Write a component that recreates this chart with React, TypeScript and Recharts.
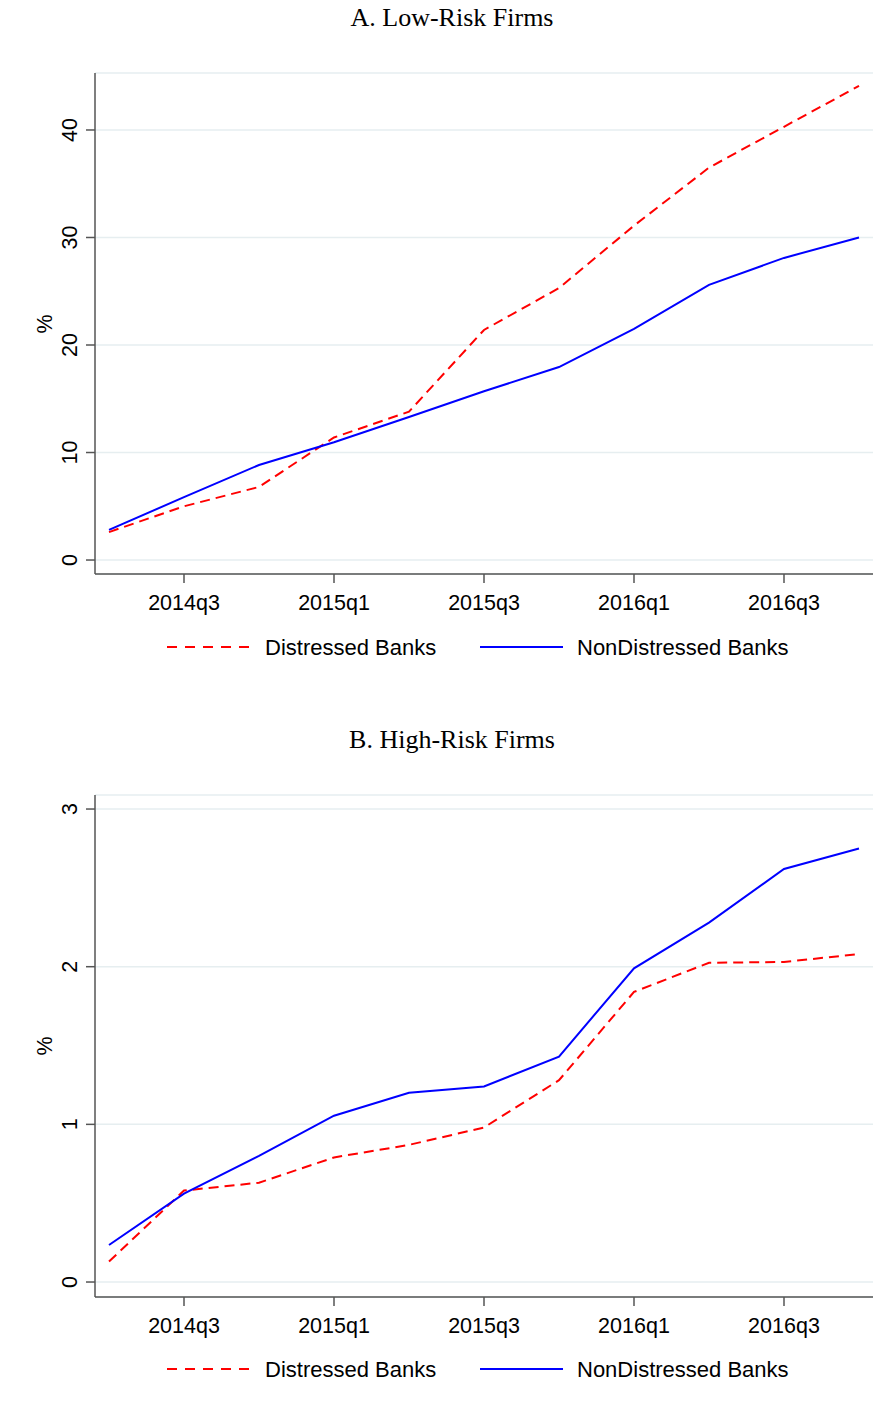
import React from 'react';
import { LineChart, Line, XAxis, YAxis, CartesianGrid } from 'recharts';

const quarters = ['2014q2', '2014q3', '2014q4', '2015q1', '2015q2', '2015q3', '2015q4', '2016q1', '2016q2', '2016q3', '2016q4'];
const xTickLabels = ['2014q3', '2015q1', '2015q3', '2016q1', '2016q3'];

const lowRiskDistressed = [2.6, 5.0, 6.8, 11.4, 13.8, 21.4, 25.3, 31.1, 36.5, 40.3, 44.1];
const lowRiskNonDistressed = [2.8, 5.85, 8.84, 10.95, 13.3, 15.7, 17.95, 21.5, 25.6, 28.1, 30.0];
const lowRiskYTicks = [0, 10, 20, 30, 40];

const highRiskDistressed = [0.13, 0.58, 0.63, 0.79, 0.87, 0.98, 1.28, 1.84, 2.025, 2.03, 2.08];
const highRiskNonDistressed = [0.235, 0.56, 0.8, 1.055, 1.2, 1.24, 1.43, 1.99, 2.28, 2.62, 2.75];
const highRiskYTicks = [0, 1, 2, 3];

const legendLabels = ['Distressed Banks', 'NonDistressed Banks'];
const panelTitles = ['A. Low-Risk Firms', 'B. High-Risk Firms'];

const RED = '#ff0000';
const BLUE = '#0000ff';
const AXIS = '#555555';
const GRID = '#e6eef0';
const SANS = '"Liberation Sans", Arial, sans-serif';
const SERIF = '"Liberation Serif", "DejaVu Serif", serif';
const TICK_FS = 21.5;
const LEGEND_FS = 22;

const xTicks = xTickLabels.map((l) => quarters.indexOf(l));

function buildData(d: number[], n: number[]) {
  return quarters.map((q, i) => ({ idx: i, q, distressed: d[i], nonDistressed: n[i] }));
}

const YTick = (props: any) => {
  const { y, payload } = props;
  const bx = 77;
  return (
    <g>
      <text
        x={bx}
        y={y}
        transform={`rotate(-90, ${bx}, ${y})`}
        textAnchor="middle"
        fontFamily={SANS}
        fontSize={TICK_FS}
        fill="#000"
      >
        {payload.value}
      </text>
    </g>
  );
};

const XTick = (props: any) => {
  const { x, y, payload } = props;
  return (
    <text x={x} y={y + 25} textAnchor="middle" fontFamily={SANS} fontSize={TICK_FS} fill="#000">
      {quarters[payload.value]}
    </text>
  );
};

function Panel(props: {
  top: number;
  title: string;
  d: number[];
  n: number[];
  yDomain: [number, number];
  yTicks: number[];
  marginTop: number;
  marginBottom: number;
  titleY: number;
  pctY: number;
  legendY: number;
}) {
  const data = buildData(props.d, props.n);
  return (
    <div style={{ position: 'absolute', left: 0, top: props.top, width: 882, height: 708 }}>
      <div
        style={{
          position: 'absolute',
          left: 0,
          width: 904,
          top: props.titleY - 15,
          textAlign: 'center',
          fontFamily: SERIF,
          fontSize: 26,
          lineHeight: '30px',
          color: '#000',
        }}
      >
        {props.title}
      </div>
      <div
        style={{
          position: 'absolute',
          left: 45 - 20,
          top: props.pctY - 12,
          width: 40,
          height: 24,
          lineHeight: '24px',
          textAlign: 'center',
          transform: 'rotate(-90deg)',
          fontFamily: SANS,
          fontSize: TICK_FS,
          color: '#000',
        }}
      >
        %
      </div>
      <div style={{ position: 'absolute', left: 0, top: 0 }}>
        <LineChart
          width={882}
          height={708}
          data={data}
          margin={{ top: props.marginTop, right: 9, bottom: props.marginBottom, left: 55 }}
        >
          <CartesianGrid horizontal={true} vertical={false} stroke={GRID} strokeWidth={1.5} />
          <XAxis
            dataKey="idx"
            type="number"
            domain={[-0.1867, 10.1867]}
            ticks={xTicks}
            allowDataOverflow
            height={30}
            tickSize={9}
            tickLine={{ stroke: AXIS, strokeWidth: 1.5 }}
            axisLine={{ stroke: AXIS, strokeWidth: 1.5 }}
            tick={<XTick />}
            interval={0}
          />
          <YAxis
            type="number"
            domain={props.yDomain}
            ticks={props.yTicks}
            allowDataOverflow
            width={40}
            tickSize={9}
            tickLine={{ stroke: AXIS, strokeWidth: 1.5 }}
            axisLine={{ stroke: AXIS, strokeWidth: 1.5 }}
            tick={<YTick />}
            interval={0}
          />
          <Line
            type="linear"
            dataKey="distressed"
            stroke={RED}
            strokeWidth={2}
            strokeDasharray="10 6"
            dot={false}
            isAnimationActive={false}
          />
          <Line
            type="linear"
            dataKey="nonDistressed"
            stroke={BLUE}
            strokeWidth={2}
            dot={false}
            isAnimationActive={false}
          />
        </LineChart>
      </div>
      <svg style={{ position: 'absolute', left: 0, top: props.legendY - 15 }} width={882} height={30}>
        <line x1={167} x2={250} y1={15} y2={15} stroke={RED} strokeWidth={2} strokeDasharray="10 8" />
        <text x={265} y={23} fontFamily={SANS} fontSize={LEGEND_FS} fill="#000">
          {legendLabels[0]}
        </text>
        <line x1={480} x2={563} y1={15} y2={15} stroke={BLUE} strokeWidth={2} />
        <text x={577} y={23} fontFamily={SANS} fontSize={LEGEND_FS} fill="#000">
          {legendLabels[1]}
        </text>
      </svg>
    </div>
  );
}

export default function App() {
  return (
    <div style={{ position: 'absolute', left: 0, top: 0, width: 882, height: 1416, background: '#fff' }}>
      <Panel
        top={0}
        title={panelTitles[0]}
        d={lowRiskDistressed}
        n={lowRiskNonDistressed}
        yDomain={[-1.3, 45.3]}
        yTicks={lowRiskYTicks}
        marginTop={73}
        marginBottom={104}
        titleY={18}
        pctY={324}
        legendY={647}
      />
      <Panel
        top={708}
        title={panelTitles[1]}
        d={highRiskDistressed}
        n={highRiskNonDistressed}
        yDomain={[-0.095, 3.089]}
        yTicks={highRiskYTicks}
        marginTop={87}
        marginBottom={89}
        titleY={740 - 708}
        pctY={1046 - 708}
        legendY={1369 - 708}
      />
    </div>
  );
}
